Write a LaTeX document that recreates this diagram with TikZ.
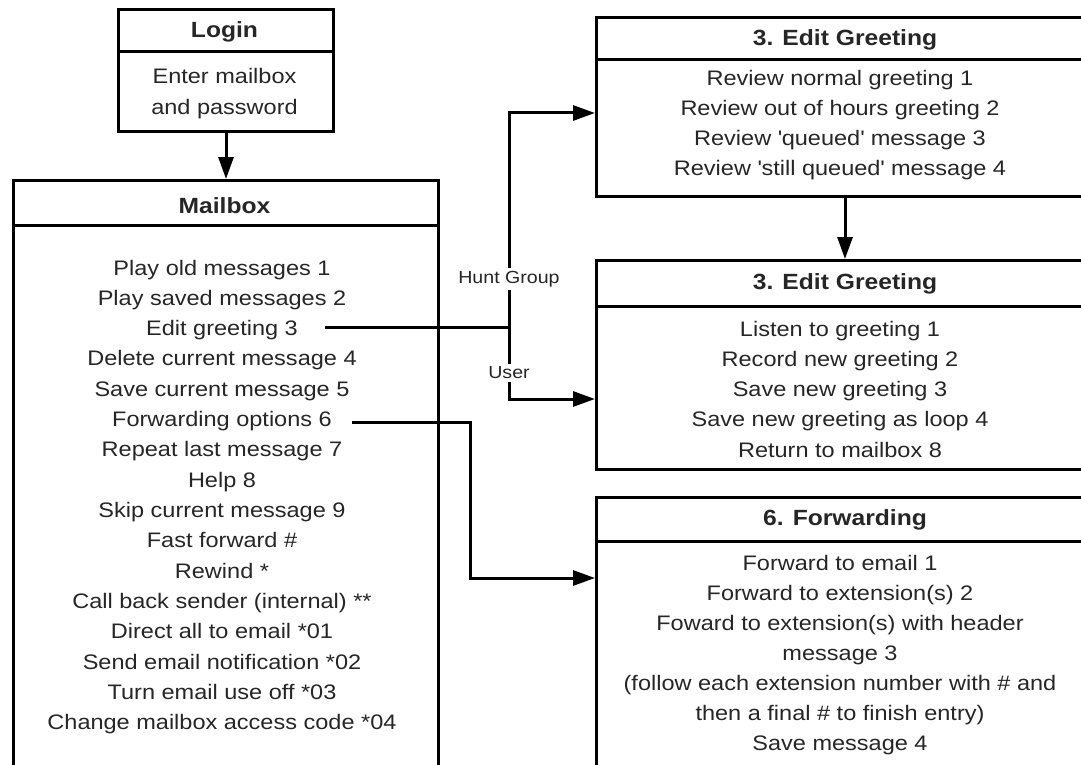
\documentclass[tikz,border=0pt]{standalone}
\usepackage{fontspec}
\setmainfont{Liberation Sans}[FakeStretch=1.12]
\usetikzlibrary{arrows.meta}
\begin{document}
\begin{tikzpicture}[x=1pt,y=-1pt,
  box/.style={draw, line width=3pt, inner sep=0pt, anchor=north west},
  conn/.style={line width=3pt},
  arr/.style={conn, -{Triangle[length=22pt,width=15pt]}},
  txt/.style={font=\fontsize{21}{25}\selectfont, inner sep=0pt, anchor=base, text=black!85},
  ttl/.style={font=\bfseries\fontsize{22}{25}\selectfont, inner sep=0pt, anchor=base, text=black!85},
  lbl/.style={font=\fontsize{17.5}{21}\selectfont, fill=white, inner sep=3pt, text=black!85}]
\useasboundingbox (0,0) rectangle (1081,765);
\clip (0,0) rectangle (1081,765);
\fill[white] (0,0) rectangle (1081,765);

% ---------- Login ----------
\node[box, minimum width=215pt, minimum height=122pt] (login) at (117,8) {};
\draw[conn] (117,52) -- (332,52);
\node[ttl] (loginT) at (224.5,38) {Login};
\node[txt] (login1) at (224.5,84) {Enter mailbox};
\node[txt] (login2) at (224.5,114) {and password};

% ---------- Mailbox ----------
\node[box, minimum width=425pt, minimum height=640pt] (mailbox) at (12,179) {};
\draw[conn] (12,225) -- (437,225);
\node[ttl] (mailboxT) at (224.5,213) {Mailbox};
\foreach \t [count=\i from 0] in {
  {Play old messages 1},
  {Play saved messages 2},
  {Edit greeting 3},
  {Delete current message 4},
  {Save current message 5},
  {Forwarding options 6},
  {Repeat last message 7},
  {Help 8},
  {Skip current message 9},
  {Fast forward \#},
  {Rewind *},
  {Call back sender (internal) **},
  {Direct all to email *01},
  {Send email notification *02},
  {Turn email use off *03},
  {Change mailbox access code *04}}
  \node[txt] (mb\i) at (222,275+30.33*\i) {\t};

% ---------- 3. Edit Greeting (review) ----------
\node[box, minimum width=500pt, minimum height=179pt] (greetA) at (595,16) {};
\draw[conn] (595,60) -- (1095,60);
\node[ttl] (greetAT) at (845,46) {3. Edit Greeting};
\foreach \t [count=\i from 0] in {
  {Review normal greeting 1},
  {Review out of hours greeting 2},
  {Review \textquotesingle queued\textquotesingle{} message 3},
  {Review \textquotesingle still queued\textquotesingle{} message 4}}
  \node[txt] (ga\i) at (840,86+29.7*\i) {\t};

% ---------- 3. Edit Greeting (record) ----------
\node[box, minimum width=500pt, minimum height=209pt] (greetB) at (595,259) {};
\draw[conn] (595,306) -- (1095,306);
\node[ttl] (greetBT) at (845,289) {3. Edit Greeting};
\foreach \t [count=\i from 0] in {
  {Listen to greeting 1},
  {Record new greeting 2},
  {Save new greeting 3},
  {Save new greeting as loop 4},
  {Return to mailbox 8}}
  \node[txt] (gb\i) at (840,336+30.3*\i) {\t};

% ---------- 6. Forwarding ----------
\node[box, minimum width=500pt, minimum height=320pt] (fwd) at (595,496) {};
\draw[conn] (595,541) -- (1095,541);
\node[ttl] (fwdT) at (845,525) {6. Forwarding};
\foreach \t [count=\i from 0] in {
  {Forward to email 1},
  {Forward to extension(s) 2},
  {Foward to extension(s) with header},
  {message 3},
  {(follow each extension number with \# and},
  {then a final \# to finish entry)},
  {Save message 4}}
  \node[txt] (fw\i) at (840,570+30*\i) {\t};

% ---------- connectors ----------
\draw[arr] (login.south) -- (mailbox.north -| login.south);
\draw[arr] (greetA.south -| 845,0) -- (greetB.north -| 845,0);

\coordinate (e3) at (325,327);
\coordinate (split) at (509,327);
\draw[conn] (e3) -- (split);
\draw[arr] (split) -- (509,113) -- (greetA.west |- 0,113);
\draw[arr] (split) -- (509,399) -- (greetB.west |- 0,399);
\node[lbl] (hunt) at (509,279) {Hunt Group};
\node[lbl] (user) at (509,373) {User};

\coordinate (f6) at (352,422);
\draw[arr] (f6) -- (470,422) -- (470,578) -- (fwd.west |- 0,578);
\end{tikzpicture}
\end{document}
